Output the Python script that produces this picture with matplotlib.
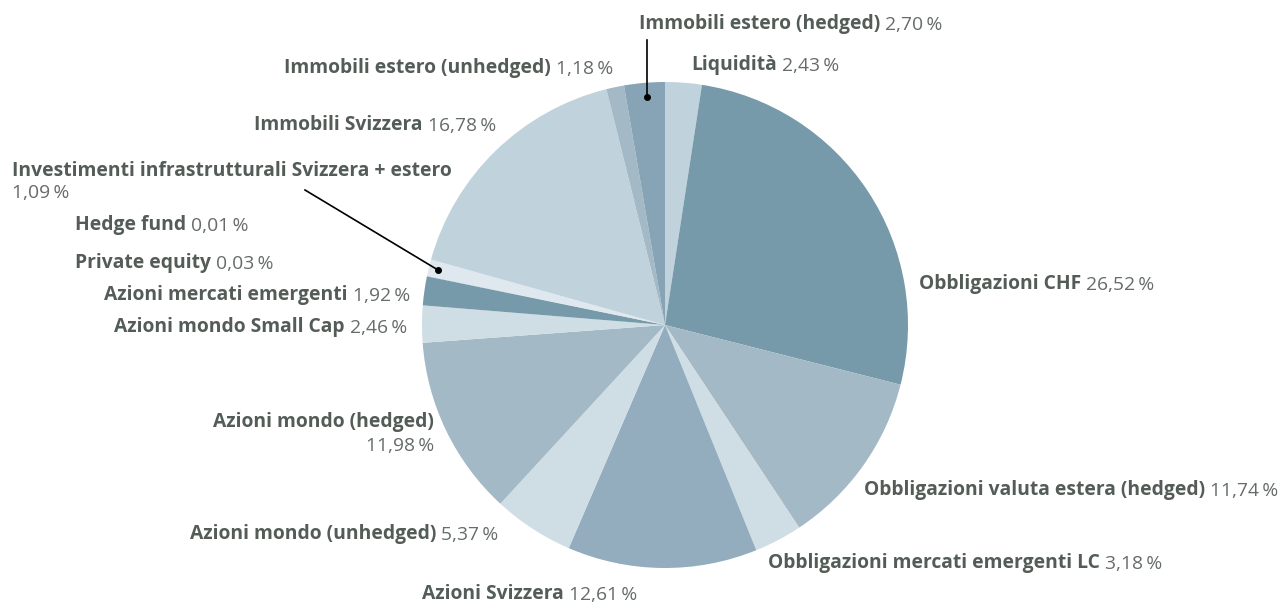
import matplotlib.pyplot as plt

plt.rcParams['font.family'] = ['Open Sans', 'DejaVu Sans']

labels = ['Liquidità', 'Obbligazioni CHF', 'Obbligazioni valuta estera (hedged)',
          'Obbligazioni mercati emergenti LC', 'Azioni Svizzera', 'Azioni mondo (unhedged)',
          'Azioni mondo (hedged)', 'Azioni mondo Small Cap', 'Azioni mercati emergenti',
          'Private equity', 'Hedge fund', 'Investimenti infrastrutturali Svizzera + estero',
          'Immobili Svizzera', 'Immobili estero (unhedged)', 'Immobili estero (hedged)']
values = [2.43, 26.52, 11.74, 3.18, 12.61, 5.37, 11.98, 2.46, 1.92, 0.03, 0.01, 1.09,
          16.78, 1.18, 2.70]
colors = ['#c0d3dc', '#779aab', '#a3b9c6', '#cfdde4', '#93adbe', '#cfdde4', '#a3b9c6',
          '#cfdde4', '#779aab', '#b0c4cf', '#b0c4cf', '#dfe8ee', '#c0d3dc', '#a3b9c6', '#86a4b5']

W, H = 1281, 603
fig = plt.figure(figsize=(W / 100, H / 100), dpi=100)
ax = fig.add_axes([0, 0, 1, 1])

ax.pie(values, colors=colors, startangle=90, counterclock=False,
       center=(665, H - 325), radius=243, frame=True)
ax.set_xlim(0, W)
ax.set_ylim(0, H)
ax.set_aspect('equal')
ax.axis('off')

BOLD = '#535c57'
REG = '#666c69'
FS = 13.9


def fmt(v):
    return ('%.2f' % v).replace('.', ',') + '\u2009%'


# (index, x, y, align) in pixel coords, y from top
pos = {
    14: (639, 24, 'left'),
    0: (691, 65, 'left'),
    13: (613, 69, 'right'),
    12: (496, 126, 'right'),
    10: (75, 225, 'left'),
    9: (75, 263, 'left'),
    8: (410, 296, 'right'),
    7: (407, 328, 'right'),
    1: (919, 284, 'left'),
    5: (190, 534, 'left'),
    4: (422, 594, 'left'),
    2: (864, 490, 'left'),
    3: (768, 563, 'left'),
}

for i, (x, y, al) in pos.items():
    if al == 'left':
        t = ax.text(x, H - y, labels[i], fontsize=FS, fontweight='bold', color=BOLD,
                    ha='left', va='center')
        ax.annotate(fmt(values[i]), xy=(1, 0), xycoords=t, xytext=(3.5, 0),
                    textcoords='offset points', fontsize=FS, color=REG,
                    ha='left', va='bottom')
    else:
        t = ax.text(x, H - y, fmt(values[i]), fontsize=FS, color=REG,
                    ha='right', va='center')
        ax.annotate(labels[i], xy=(0, 0), xycoords=t, xytext=(-3.5, 0),
                    textcoords='offset points', fontsize=FS, fontweight='bold',
                    color=BOLD, ha='right', va='bottom')

# two-line labels
ax.text(12, H - 171, labels[11], fontsize=FS, fontweight='bold', color=BOLD,
        ha='left', va='center')
ax.text(12, H - 193, fmt(values[11]), fontsize=FS, color=REG, ha='left', va='center')
ax.text(434, H - 422, labels[6], fontsize=FS, fontweight='bold', color=BOLD,
        ha='right', va='center')
ax.text(434, H - 446, fmt(values[6]), fontsize=FS, color=REG, ha='right', va='center')

# leader lines
ax.plot([647, 647], [H - 40, H - 97], color='black', lw=1.2)
ax.plot([647], [H - 97], 'o', color='black', ms=4)
ax.plot([305, 438], [H - 190, H - 270], color='black', lw=1.2)
ax.plot([438], [H - 270], 'o', color='black', ms=4)

fig.savefig('out.png', dpi=100)
